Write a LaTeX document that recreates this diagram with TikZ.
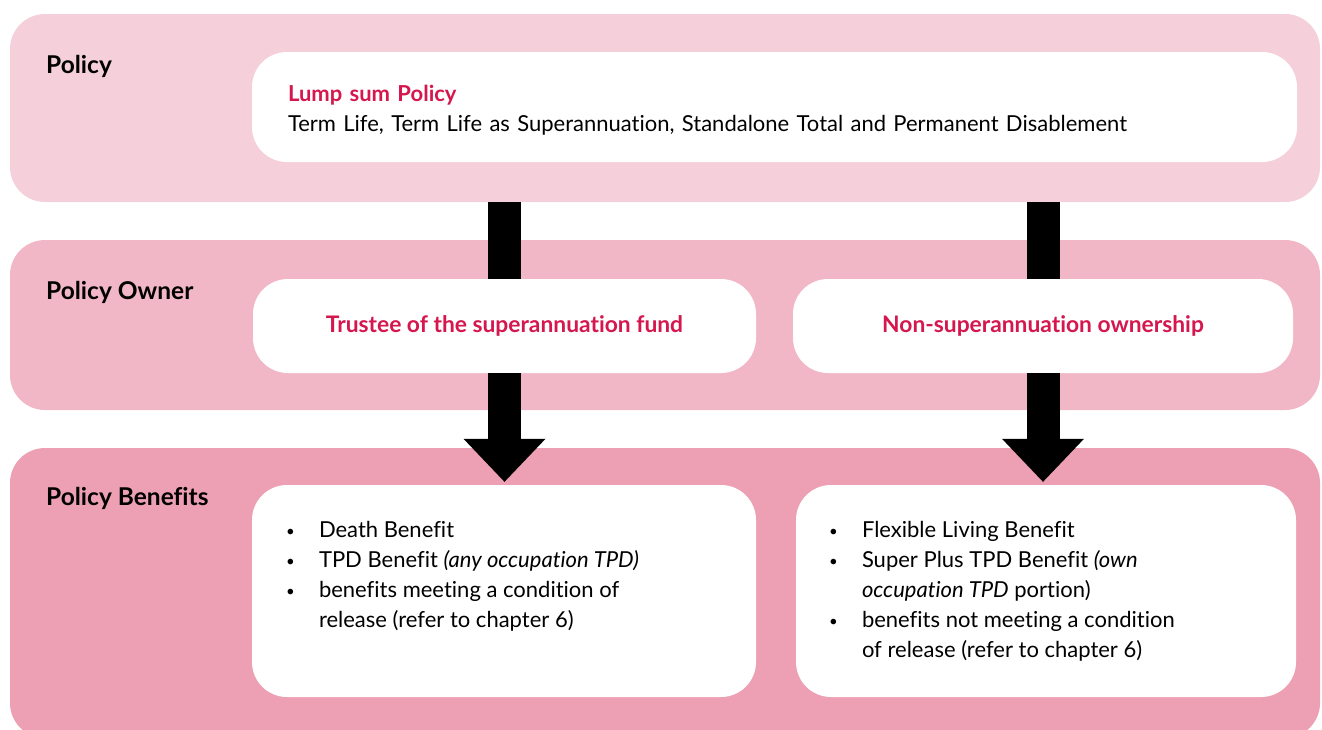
\documentclass[tikz,border=0pt]{standalone}
\usepackage{fontspec}
\setmainfont{Lato}[Ligatures = NoCommon]
\usepackage{xcolor}
\usetikzlibrary{positioning, arrows.meta}

\definecolor{policypink}{HTML}{F5D0DB}
\definecolor{ownerpink}{HTML}{F2B7C6}
\definecolor{benefitpink}{HTML}{EDA0B3}
\definecolor{titlered}{HTML}{D5174E}

\newcommand{\dotmark}{\raisebox{1pt}{\fontsize{15}{30}\selectfont\textbullet}}

\begin{document}
\begin{tikzpicture}[ x = 1pt, y = -1pt
                     , font = \fontsize{22}{30}\selectfont
                     , >={Triangle[width=82pt, length=43pt, line width=0pt]}
                     , band/.style = { rectangle
                                     , rounded corners = 35pt
                                     , minimum width = 1310pt
                                     , inner sep = 0pt }
                     , card/.style = { rectangle
                                     , rounded corners = 35pt
                                     , fill = white
                                     , inner sep = 0pt }
                     , heading/.style = { anchor = base west
                                        , inner sep = 0pt
                                        , font = \fontsize{24.5}{30}\selectfont\bfseries }
                     , title/.style = { text = titlered
                                      , font = \fontsize{22.8}{30}\selectfont\bfseries }
                     , bar/.style = { line width = 33pt, draw = black }
                     ]

  \useasboundingbox (0,0) rectangle (1322,729);

  \node (policyband) [band, fill = policypink, minimum height = 188pt] at (665,108) {};
  \node (ownerband) [band, fill = ownerpink, minimum height = 170pt] at (665,325) {};
  \node (benefitband) [band, fill = benefitpink, minimum height = 290pt] at (665,593) {};

  \node (policylabel) [heading] at (46,73) {Policy};
  \node (ownerlabel) [heading] at (46,299) {Policy Owner};
  \node (benefitlabel) [heading] at (46,505) {Policy Benefits};

  \node (lump) [card, minimum width = 1045pt, minimum height = 110pt
               , text width = 973pt, align = left] at (774.5,107)
    {{\color{titlered}\bfseries\rule{0pt}{23pt}Lump sum Policy}\\
     Term Life, Term Life as Superannuation, Standalone Total and Permanent Disablement};

  \node (trustee) [card, title, minimum width = 503pt, minimum height = 94pt] at (504.5,326)
    {Trustee of the superannuation fund};
  \node (nonsuper) [card, title, minimum width = 500pt, minimum height = 94pt] at (1043,326)
    {Non-superannuation ownership};

  \node (superbenefits) [card, minimum width = 504pt, minimum height = 212pt] at (504,591) {};
  \node (ownbenefits) [card, minimum width = 500pt, minimum height = 212pt] at (1046,591) {};

  \node (superlist) [below right = 31pt and 34pt of superbenefits.north west, inner sep = 0pt]
    {\begin{tabular}{@{}p{33pt}@{}l@{}}
       \dotmark & Death Benefit\\
       \dotmark & TPD Benefit \textit{(any occupation TPD)}\\
       \dotmark & benefits meeting a condition of\\
                & release (refer to chapter 6)
     \end{tabular}};
  \node (ownlist) [below right = 31pt and 33pt of ownbenefits.north west, inner sep = 0pt]
    {\begin{tabular}{@{}p{33pt}@{}l@{}}
       \dotmark & Flexible Living Benefit\\
       \dotmark & Super Plus TPD Benefit \textit{(own}\\
                & \textit{occupation TPD} portion)\\
       \dotmark & benefits not meeting a condition\\
                & of release (refer to chapter 6)
     \end{tabular}};

  \draw[bar] (policyband.south -| trustee.north) -- (trustee.north);
  \draw[bar] (policyband.south -| nonsuper.north) -- (nonsuper.north);
  \draw[bar, ->] (trustee.south) -- ([yshift=3pt]trustee.south |- superbenefits.north);
  \draw[bar, ->] (nonsuper.south) -- ([yshift=3pt]nonsuper.south |- ownbenefits.north);

\end{tikzpicture}
\end{document}
